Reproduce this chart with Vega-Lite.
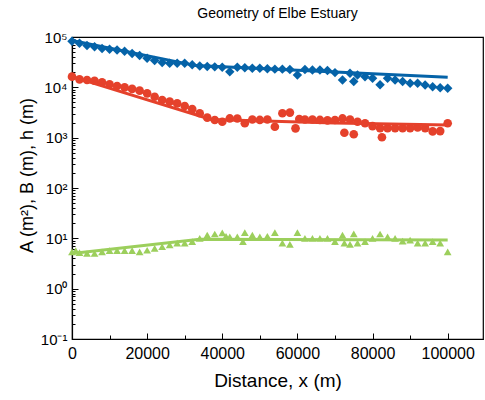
{
  "$schema": "https://vega.github.io/schema/vega-lite/v6.json",
  "width": 411,
  "height": 302,
  "autosize": "none",
  "padding": {"left": 72, "top": 37, "right": 2, "bottom": 61},
  "background": "white",
  "title": {"text": "Geometry of Elbe Estuary", "fontSize": 14, "fontWeight": "normal", "font": "Liberation Sans", "color": "#000", "offset": 9, "anchor": "middle"},
  "config": {
    "view": {"stroke": "#000", "strokeWidth": 1.2},
    "axis": {"grid": false, "domainColor": "#000", "domainWidth": 1.2, "tickColor": "#000", "tickWidth": 1, "labelColor": "#000", "titleColor": "#000", "labelFont": "Liberation Sans", "titleFont": "Liberation Sans", "titleFontWeight": "normal", "labelOverlap": false, "labelFlush": false}
  },
  "datasets": {
    "pts": [
      {"s":"A","d":0,"v":82000},{"s":"A","d":2000,"v":75000},{"s":"A","d":4000,"v":68000},{"s":"A","d":6000,"v":64000},{"s":"A","d":8000,"v":59000},{"s":"A","d":10000,"v":57000},{"s":"A","d":12000,"v":55000},{"s":"A","d":14000,"v":52000},{"s":"A","d":16000,"v":47000},{"s":"A","d":18000,"v":43000},{"s":"A","d":20000,"v":38000},{"s":"A","d":22000,"v":34000},{"s":"A","d":24000,"v":31000},{"s":"A","d":26000,"v":30000},{"s":"A","d":28000,"v":30000},{"s":"A","d":30000,"v":30000},{"s":"A","d":32000,"v":28000},{"s":"A","d":34000,"v":26500},{"s":"A","d":36000,"v":26000},{"s":"A","d":38000,"v":25500},{"s":"A","d":40000,"v":25000},{"s":"A","d":42000,"v":20500},{"s":"A","d":44000,"v":25000},{"s":"A","d":46000,"v":24500},{"s":"A","d":48000,"v":24000},{"s":"A","d":50000,"v":24000},{"s":"A","d":52000,"v":23500},{"s":"A","d":54000,"v":23000},{"s":"A","d":56000,"v":23000},{"s":"A","d":58000,"v":22500},{"s":"A","d":60000,"v":17500},{"s":"A","d":62000,"v":22500},{"s":"A","d":64000,"v":22000},{"s":"A","d":66000,"v":22000},{"s":"A","d":68000,"v":21500},{"s":"A","d":70000,"v":19600},{"s":"A","d":72000,"v":14000},{"s":"A","d":74000,"v":19000},{"s":"A","d":75000,"v":13000},{"s":"A","d":76000,"v":17600},{"s":"A","d":78000,"v":16200},{"s":"A","d":80000,"v":15100},{"s":"A","d":82000,"v":11200},{"s":"A","d":84000,"v":15100},{"s":"A","d":86000,"v":14000},{"s":"A","d":88000,"v":13000},{"s":"A","d":90000,"v":12000},{"s":"A","d":92000,"v":12000},{"s":"A","d":94000,"v":11100},{"s":"A","d":96000,"v":10300},{"s":"A","d":98000,"v":9800},{"s":"A","d":100000,"v":9600},
      {"s":"B","d":0,"v":16300},{"s":"B","d":2000,"v":14400},{"s":"B","d":4000,"v":14000},{"s":"B","d":6000,"v":13500},{"s":"B","d":8000,"v":12600},{"s":"B","d":10000,"v":11500},{"s":"B","d":12000,"v":10600},{"s":"B","d":14000,"v":10000},{"s":"B","d":16000,"v":9300},{"s":"B","d":18000,"v":8600},{"s":"B","d":20000,"v":7600},{"s":"B","d":22000,"v":6500},{"s":"B","d":24000,"v":5600},{"s":"B","d":26000,"v":5200},{"s":"B","d":28000,"v":4800},{"s":"B","d":30000,"v":4260},{"s":"B","d":32000,"v":3700},{"s":"B","d":34000,"v":3050},{"s":"B","d":36000,"v":2500},{"s":"B","d":38000,"v":2240},{"s":"B","d":40000,"v":2070},{"s":"B","d":42000,"v":2410},{"s":"B","d":44000,"v":2400},{"s":"B","d":46000,"v":1930},{"s":"B","d":48000,"v":2300},{"s":"B","d":50000,"v":2250},{"s":"B","d":52000,"v":2300},{"s":"B","d":54000,"v":1650},{"s":"B","d":56000,"v":3050},{"s":"B","d":58000,"v":3150},{"s":"B","d":59500,"v":1530},{"s":"B","d":60500,"v":2350},{"s":"B","d":62000,"v":2300},{"s":"B","d":64000,"v":2300},{"s":"B","d":66000,"v":2250},{"s":"B","d":68000,"v":2200},{"s":"B","d":70000,"v":2240},{"s":"B","d":72000,"v":2410},{"s":"B","d":72500,"v":1250},{"s":"B","d":74000,"v":2300},{"s":"B","d":75000,"v":1170},{"s":"B","d":76000,"v":2070},{"s":"B","d":78000,"v":1930},{"s":"B","d":80000,"v":1700},{"s":"B","d":82000,"v":1550},{"s":"B","d":82500,"v":1020},{"s":"B","d":84000,"v":1550},{"s":"B","d":86000,"v":1550},{"s":"B","d":88000,"v":1550},{"s":"B","d":90000,"v":1550},{"s":"B","d":92000,"v":1600},{"s":"B","d":94000,"v":1550},{"s":"B","d":96000,"v":1330},{"s":"B","d":98000,"v":1350},{"s":"B","d":100000,"v":1930},
      {"s":"h","d":0,"v":5.4},{"s":"h","d":1000,"v":5.7},{"s":"h","d":2000,"v":5.2},{"s":"h","d":4000,"v":5.0},{"s":"h","d":6000,"v":5.0},{"s":"h","d":8000,"v":5.4},{"s":"h","d":10000,"v":5.7},{"s":"h","d":12000,"v":5.7},{"s":"h","d":14000,"v":5.7},{"s":"h","d":16000,"v":5.7},{"s":"h","d":18000,"v":5.4},{"s":"h","d":20000,"v":5.8},{"s":"h","d":22000,"v":6.3},{"s":"h","d":24000,"v":6.8},{"s":"h","d":26000,"v":7.4},{"s":"h","d":28000,"v":8.0},{"s":"h","d":30000,"v":8.0},{"s":"h","d":32000,"v":8.6},{"s":"h","d":34000,"v":10},{"s":"h","d":36000,"v":11.6},{"s":"h","d":38000,"v":12.2},{"s":"h","d":40000,"v":12.8},{"s":"h","d":41000,"v":11},{"s":"h","d":42000,"v":10.7},{"s":"h","d":44000,"v":10.7},{"s":"h","d":45500,"v":8.6},{"s":"h","d":46000,"v":13},{"s":"h","d":48000,"v":11.6},{"s":"h","d":50000,"v":10.7},{"s":"h","d":52000,"v":11},{"s":"h","d":54000,"v":13},{"s":"h","d":56000,"v":8.0},{"s":"h","d":58000,"v":7.6},{"s":"h","d":60000,"v":13},{"s":"h","d":62000,"v":10},{"s":"h","d":64000,"v":10},{"s":"h","d":66000,"v":10},{"s":"h","d":68000,"v":10},{"s":"h","d":70000,"v":8.6},{"s":"h","d":72000,"v":11.6},{"s":"h","d":72500,"v":8.0},{"s":"h","d":74000,"v":7.6},{"s":"h","d":75000,"v":12.3},{"s":"h","d":76000,"v":8.0},{"s":"h","d":78000,"v":8.6},{"s":"h","d":80000,"v":10},{"s":"h","d":82000,"v":12.2},{"s":"h","d":84000,"v":10.7},{"s":"h","d":86000,"v":10},{"s":"h","d":88000,"v":8.8},{"s":"h","d":90000,"v":9.2},{"s":"h","d":92000,"v":8.0},{"s":"h","d":94000,"v":8.0},{"s":"h","d":96000,"v":8.6},{"s":"h","d":98000,"v":8.0},{"s":"h","d":100000,"v":5.4}
    ],
    "fit": [
      {"s":"A","d":0,"v":85000},{"s":"A","d":33000,"v":27000},{"s":"A","d":100000,"v":15800},
      {"s":"B","d":0,"v":16300},{"s":"B","d":37000,"v":2300},{"s":"B","d":70000,"v":1950},{"s":"B","d":100000,"v":1780},
      {"s":"h","d":0,"v":5.0},{"s":"h","d":34000,"v":9.6},{"s":"h","d":100000,"v":9.3}
    ]
  },
  "encoding": {
    "x": {"field": "d", "type": "quantitative",
      "scale": {"domain": [0, 109400], "nice": false, "zero": false},
      "axis": {"title": "Distance, x (m)", "titleFontSize": 19, "titlePadding": 8, "labelFontSize": 16, "labelPadding": 12,
        "values": [0,10000,20000,30000,40000,50000,60000,70000,80000,90000,100000],
        "labelExpr": "datum.value % 20000 == 0 ? format(datum.value, 'd') : ''",
        "tickSize": {"condition": {"test": "datum.value % 20000 == 0", "value": -6}, "value": -4}}},
    "y": {"field": "v", "type": "quantitative",
      "scale": {"type": "log", "domain": [0.1, 100000], "nice": false},
      "axis": {"title": "A (m²), B (m), h (m)", "titleFontSize": 18, "titleY": 138, "labelFontSize": 15, "labelPadding": 11,
        "values": [0.1,0.2,0.3,0.4,0.5,0.6,0.7,0.8,0.9,1,2,3,4,5,6,7,8,9,10,20,30,40,50,60,70,80,90,100,200,300,400,500,600,700,800,900,1000,2000,3000,4000,5000,6000,7000,8000,9000,10000,20000,30000,40000,50000,60000,70000,80000,90000,100000],
        "labelExpr": "abs(log(datum.value)/LN10 - round(log(datum.value)/LN10)) < 0.001 ? '10' + ['⁻¹','⁰','¹','²','³','⁴','⁵'][round(log(datum.value)/LN10) + 1] : ''",
        "tickSize": {"condition": {"test": "abs(log(datum.value)/LN10 - round(log(datum.value)/LN10)) < 0.001", "value": -6}, "value": -3}}},
    "color": {"field": "s", "type": "nominal", "legend": null,
      "scale": {"domain": ["A", "B", "h"], "range": ["#0563a8", "#e5412b", "#9ccf5c"]}}
  },
  "layer": [
    {"data": {"name": "pts"},
     "mark": {"type": "point", "filled": true, "opacity": 1},
     "encoding": {
       "shape": {"field": "s", "type": "nominal", "legend": null, "scale": {"domain": ["A", "B", "h"], "range": ["diamond", "circle", "triangle-up"]}},
       "size": {"field": "s", "type": "ordinal", "legend": null, "scale": {"domain": ["A", "B", "h"], "range": [90, 60, 80]}}
     }},
    {"data": {"name": "fit"},
     "mark": {"type": "line", "strokeWidth": 3},
     "encoding": {}}
  ]
}
